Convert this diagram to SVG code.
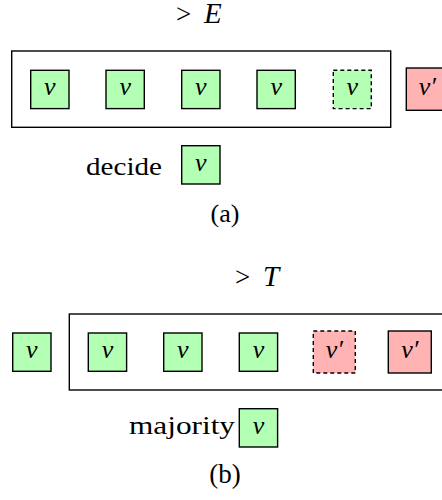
<svg xmlns="http://www.w3.org/2000/svg" width="442" height="500" viewBox="0 0 442 500">
<style>
.bg{fill:#fff}
.frame{fill:none;stroke:#000;stroke-width:1.4}
.g{fill:#b3ffb3;stroke:#000;stroke-width:1.4}
.r{fill:#ffb3b3;stroke:#000;stroke-width:1.4}
.d{stroke-dasharray:4 3}
</style>
<rect class="bg" width="442" height="500"/>
<!-- (a) -->
<g id="labelE"><text font-family="Liberation Serif" font-size="27" x="176" y="23">&gt;</text><text font-family="Liberation Serif" font-size="29" font-style="italic" x="204" y="23">E</text></g>
<g id="frameA"><rect class="frame" x="11.7" y="51" width="379" height="76.3"/></g>
<g id="a1"><rect class="g" x="30.7" y="70.3" width="38.3" height="38.3"/><text font-family="Liberation Serif" font-size="26" font-style="italic" text-anchor="middle" x="49.8" y="95">v</text></g>
<g id="a2"><rect class="g" x="106" y="70.3" width="38.3" height="38.3"/><text font-family="Liberation Serif" font-size="26" font-style="italic" text-anchor="middle" x="125.2" y="95">v</text></g>
<g id="a3"><rect class="g" x="181.7" y="70.3" width="38.3" height="38.3"/><text font-family="Liberation Serif" font-size="26" font-style="italic" text-anchor="middle" x="200.8" y="95">v</text></g>
<g id="a4"><rect class="g" x="257" y="70.3" width="38.3" height="38.3"/><text font-family="Liberation Serif" font-size="26" font-style="italic" text-anchor="middle" x="276.2" y="95">v</text></g>
<g id="a5"><rect class="g d" x="333.3" y="70.3" width="38" height="38.3"/><text font-family="Liberation Serif" font-size="26" font-style="italic" text-anchor="middle" x="352.3" y="95">v</text></g>
<g id="a6"><rect class="r" x="406.3" y="68" width="42" height="42.3"/><text font-family="Liberation Serif" font-size="26" font-style="italic" text-anchor="middle" x="427.3" y="95">v′</text></g>
<g id="decideA"><text font-family="Liberation Serif" font-size="26" x="86" y="175" textLength="76" lengthAdjust="spacingAndGlyphs">decide</text><rect class="g" x="181.7" y="145.7" width="38.3" height="38.3"/><text font-family="Liberation Serif" font-size="26" font-style="italic" text-anchor="middle" x="200.8" y="170.5">v</text></g>
<g id="capA"><text font-family="Liberation Serif" font-size="26" text-anchor="middle" x="225" y="221.5">(a)</text></g>
<!-- (b) -->
<g id="labelT"><text font-family="Liberation Serif" font-size="27" x="235" y="286">&gt;</text><text font-family="Liberation Serif" font-size="29" font-style="italic" x="263" y="286">T</text></g>
<g id="frameB"><rect class="frame" x="69.3" y="314" width="380" height="76"/></g>
<g id="b0"><rect class="g" x="12.7" y="333" width="38.3" height="38.3"/><text font-family="Liberation Serif" font-size="26" font-style="italic" text-anchor="middle" x="31.8" y="357.8">v</text></g>
<g id="b1"><rect class="g" x="88.3" y="333" width="38.3" height="38.3"/><text font-family="Liberation Serif" font-size="26" font-style="italic" text-anchor="middle" x="107.5" y="357.8">v</text></g>
<g id="b2"><rect class="g" x="163.7" y="333" width="38.3" height="38.3"/><text font-family="Liberation Serif" font-size="26" font-style="italic" text-anchor="middle" x="182.8" y="357.8">v</text></g>
<g id="b3"><rect class="g" x="239.3" y="333" width="38.3" height="38.3"/><text font-family="Liberation Serif" font-size="26" font-style="italic" text-anchor="middle" x="258.5" y="357.8">v</text></g>
<g id="b4"><rect class="r d" x="313.3" y="331" width="42" height="42"/><text font-family="Liberation Serif" font-size="26" font-style="italic" text-anchor="middle" x="334.3" y="357.8">v′</text></g>
<g id="b5"><rect class="r" x="388.3" y="331" width="43" height="42"/><text font-family="Liberation Serif" font-size="26" font-style="italic" text-anchor="middle" x="409.8" y="357.8">v′</text></g>
<g id="majorityB"><text font-family="Liberation Serif" font-size="26" x="129" y="434" textLength="106" lengthAdjust="spacingAndGlyphs">majority</text><rect class="g" x="239.3" y="408.7" width="38.3" height="38.3"/><text font-family="Liberation Serif" font-size="26" font-style="italic" text-anchor="middle" x="258.5" y="433.5">v</text></g>
<g id="capB"><text font-family="Liberation Serif" font-size="27" text-anchor="middle" x="225" y="483">(b)</text></g>
<g id="connectors"/>
</svg>
